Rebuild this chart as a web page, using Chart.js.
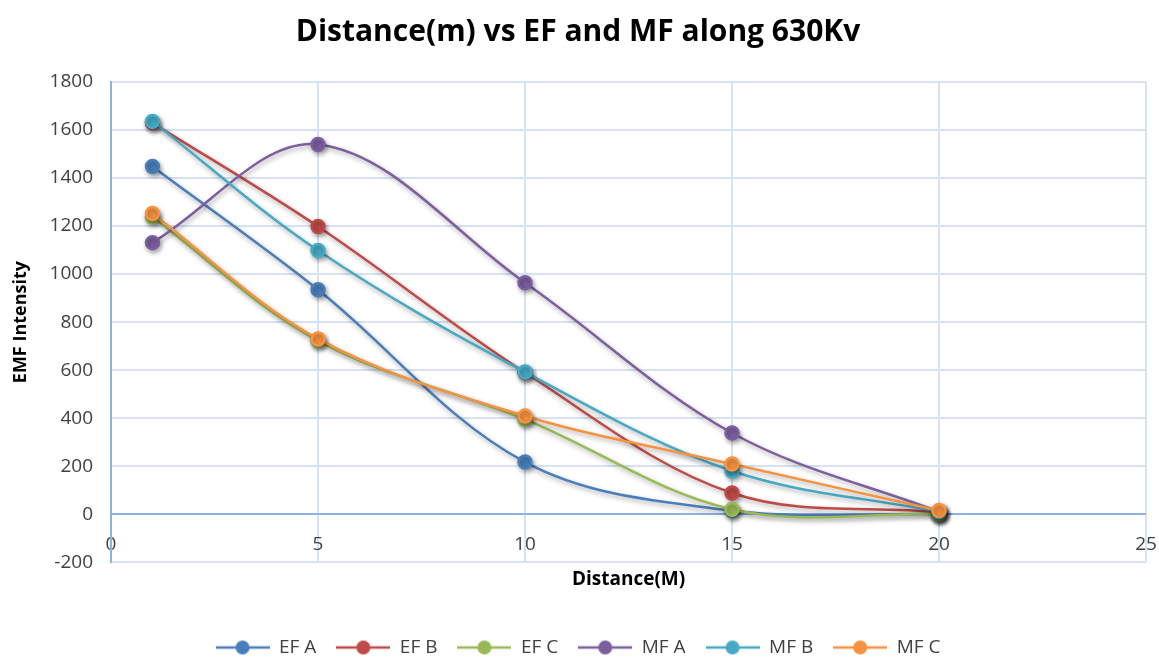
<!DOCTYPE html>
<html>
<head>
<meta charset="utf-8">
<script src="https://cdn.jsdelivr.net/npm/chart.js@4.4.1/dist/chart.umd.min.js"></script>
<style>
  html, body { margin: 0; padding: 0; background: #fff; }
  #wrap { width: 1159px; height: 657px; }
</style>
</head>
<body>
<div id="wrap"><canvas id="emf-chart" width="1159" height="657"></canvas></div>
<script>
// data
const distances = [1, 5, 10, 15, 20];
const seriesNames = ['EF A', 'EF B', 'EF C', 'MF A', 'MF B', 'MF C'];
const efA = [1448, 935, 217, 15, 0];
const efB = [1630, 1198, 590, 88, 8];
const efC = [1238, 722, 395, 20, 0];
const mfA = [1131, 1540, 964, 338, 10];
const mfB = [1636, 1098, 592, 180, 10];
const mfC = [1252, 730, 409, 209, 15];
const xTicks = [0, 5, 10, 15, 20, 25];
const yTicks = [-200, 0, 200, 400, 600, 800, 1000, 1200, 1400, 1600, 1800];

const colors = ['#4a7ebb', '#be4b48', '#98b954', '#7d5fa0', '#46aac5', '#f69240'];
const allValues = [efA, efB, efC, mfA, mfB, mfC];

function legendIcon(color) {
  const c = document.createElement('canvas');
  c.width = 54; c.height = 16;
  const g = c.getContext('2d');
  g.strokeStyle = color;
  g.lineWidth = 2.5;
  g.beginPath(); g.moveTo(0, 8); g.lineTo(54, 8); g.stroke();
  g.fillStyle = color;
  g.beginPath(); g.arc(27, 8, 7, 0, Math.PI * 2); g.fill();
  return c;
}

const datasets = seriesNames.map((name, i) => ({
  label: name,
  data: distances.map((d, j) => ({ x: d, y: allValues[i][j] })),
  borderColor: colors[i],
  backgroundColor: colors[i],
  pointBackgroundColor: colors[i],
  pointBorderColor: colors[i],
  pointRadius: 6.5,
  pointHoverRadius: 6.5,
  borderWidth: 2.5,
  tension: 0.35,
  order: seriesNames.length - i
}));

// soft shadow under lines and markers
const shadowPlugin = {
  id: 'shadow',
  beforeDatasetsDraw(chart) {
    const ctx = chart.ctx;
    ctx.save();
    ctx.shadowColor = 'rgba(0,0,0,0.35)';
    ctx.shadowBlur = 5;
    ctx.shadowOffsetX = 1.5;
    ctx.shadowOffsetY = 2.5;
  },
  afterDatasetsDraw(chart) {
    chart.ctx.restore();
  }
};

new Chart(document.getElementById('emf-chart').getContext('2d'), {
  type: 'line',
  data: { datasets: datasets },
  plugins: [shadowPlugin],
  options: {
    responsive: false,
    animation: false,
    layout: { padding: { left: 10, right: 13, top: 4, bottom: -10 } },
    plugins: {
      tooltip: { enabled: false },
      title: {
        display: true,
        text: 'Distance(m) vs EF and MF along 630Kv',
        font: { family: 'Open Sans', size: 30, weight: 'bold' },
        color: '#000',
        padding: { top: 10, bottom: 32 }
      },
      legend: {
        position: 'bottom',
        labels: {
          font: { family: 'Open Sans', size: 19 },
          color: '#404040',
          usePointStyle: true,
          pointStyleWidth: 54,
          padding: 20,
          generateLabels(chart) {
            return chart.data.datasets.map((ds, i) => ({
              text: ds.label,
              pointStyle: legendIcon(colors[i]),
              fillStyle: colors[i],
              strokeStyle: colors[i],
              fontColor: '#404040',
              lineWidth: 0,
              datasetIndex: i
            }));
          }
        }
      }
    },
    scales: {
      x: {
        type: 'linear',
        min: 0,
        max: 25,
        afterBuildTicks(scale) { scale.ticks = xTicks.map(v => ({ value: v })); },
        afterFit(scale) { scale.paddingLeft = 0; scale.paddingRight = 0; },
        ticks: { display: false },
        grid: { color: '#d6e3f4', lineWidth: 2, drawTicks: false },
        border: { display: false },
        title: {
          display: true,
          text: 'Distance(M)',
          font: { family: 'Open Sans', size: 19, weight: 'bold' },
          color: '#000',
          padding: { top: 6, bottom: 27 }
        }
      },
      x2: {
        type: 'linear',
        position: { y: 0 },
        min: 0,
        max: 25,
        afterBuildTicks(scale) { scale.ticks = xTicks.map(v => ({ value: v })); },
        afterFit(scale) { scale.paddingLeft = 0; scale.paddingRight = 0; },
        ticks: { font: { family: 'Open Sans', size: 19 }, color: '#404040', padding: 11 },
        grid: { display: false },
        border: { display: false }
      },
      y: {
        min: -200,
        max: 1800,
        afterBuildTicks(scale) { scale.ticks = yTicks.map(v => ({ value: v })); },
        ticks: {
          font: { family: 'Open Sans', size: 19 },
          color: '#404040',
          padding: 18,
          callback: v => String(v)
        },
        grid: {
          color: ctx => ctx.tick && ctx.tick.value === 0 ? '#8db3e2' : '#d6e3f4',
          lineWidth: 2,
          drawTicks: false
        },
        border: { color: '#8db3e2', width: 2 },
        title: {
          display: true,
          text: 'EMF Intensity',
          font: { family: 'Open Sans', size: 18, weight: 'bold' },
          color: '#000',
          padding: { top: 0, bottom: 0 }
        }
      }
    }
  }
});
</script>
</body>
</html>
